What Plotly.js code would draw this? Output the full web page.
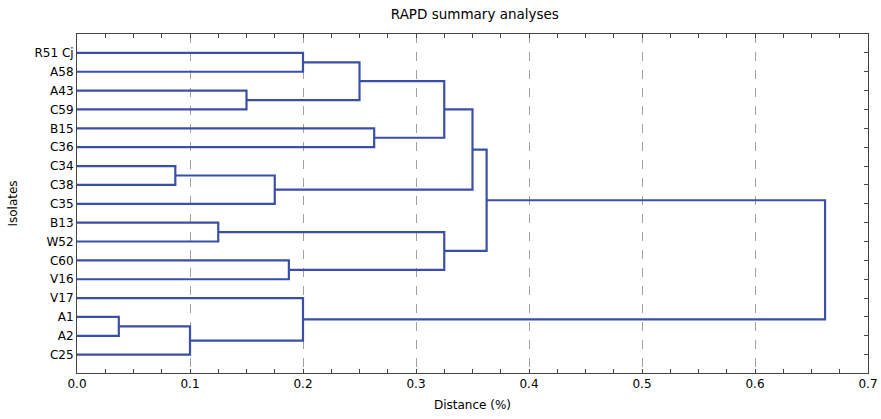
<!DOCTYPE html>
<html>
<head>
<meta charset="utf-8">
<script src="https://cdn.plot.ly/plotly-3.0.1.min.js"></script>
<style>html,body{margin:0;padding:0;background:#fff;}#chart{width:881px;height:419px;}</style>
</head>
<body>
<div id="chart"></div>
<script>
// Leaves (top to bottom)
const leaves = ['R51 Cj','A58','A43','C59','B15','C36','C34','C38','C35','B13','W52','C60','V16','V17','A1','A2','C25'];
// Linkage: node ids 0..16 are leaves, merge k creates node 17+k
const mergeLeft   = [0, 2, 17, 4, 19, 6, 22, 21, 9, 11, 25, 24, 14, 29, 13, 28];
const mergeRight  = [1, 3, 18, 5, 20, 7, 8, 23, 10, 12, 26, 27, 15, 16, 30, 31];
const mergeHeight = [0.2, 0.15, 0.25, 0.263, 0.325, 0.087, 0.175, 0.35, 0.125, 0.1875, 0.325, 0.3625, 0.037, 0.1, 0.2, 0.662];
const xTickVals = [0, 0.1, 0.2, 0.3, 0.4, 0.5, 0.6, 0.7];
const xTickText = ['0.0','0.1','0.2','0.3','0.4','0.5','0.6','0.7'];

const n = leaves.length;
const pos = [], hgt = [];
for (let i = 0; i < n; i++) { pos.push(i); hgt.push(0); }
const xs = [], ys = [];
for (let k = 0; k < mergeHeight.length; k++) {
  const a = mergeLeft[k], b = mergeRight[k], h = mergeHeight[k];
  xs.push(hgt[a], h, h, hgt[b], null);
  ys.push(pos[a], pos[a], pos[b], pos[b], null);
  pos.push((pos[a] + pos[b]) / 2);
  hgt.push(h);
}
const leafIdx = leaves.map((_, i) => i);
const font = {family: 'DejaVu Sans, Verdana, sans-serif', size: 12, color: '#000'};

const traces = [
  {x: xs, y: ys, type: 'scatter', mode: 'lines', line: {color: '#3a50a8', width: 2.2}, hoverinfo: 'skip', showlegend: false},
  {x: [0], y: [0], yaxis: 'y2', type: 'scatter', mode: 'markers', marker: {opacity: 0}, hoverinfo: 'skip', showlegend: false}
];

const layout = {
  width: 881, height: 419,
  margin: {l: 77, r: 13, t: 34, b: 46},
  paper_bgcolor: '#fff', plot_bgcolor: '#fff',
  font: font,
  title: {text: 'RAPD summary analyses', font: {family: font.family, size: 13.5, color: '#000'}, x: 0.539, xanchor: 'center', yref: 'container', y: 0.966, yanchor: 'middle'},
  xaxis: {
    range: [0, 0.7], tickvals: xTickVals, ticktext: xTickText,
    showgrid: true, gridcolor: '#a0a0a0', griddash: 'dash', gridwidth: 1,
    zeroline: false, showline: true, linecolor: '#444', linewidth: 1, mirror: 'ticks',
    ticks: 'inside', ticklen: 4, tickcolor: '#444',
    minor: {dtick: 0.025, tick0: 0, ticks: 'inside', ticklen: 4, tickcolor: '#444', showgrid: false},
    tickfont: {family: font.family, size: 12, color: '#000'},
    title: {text: 'Distance (%)', font: {family: font.family, size: 12, color: '#000'}, standoff: 10}
  },
  yaxis: {
    range: [16.97, -1], tickvals: leafIdx, ticktext: leaves,
    showgrid: false, zeroline: false, showline: true, linecolor: '#444', linewidth: 1, mirror: true,
    ticks: '', tickfont: {family: font.family, size: 12, color: '#000'},
    title: {text: 'Isolates', font: {family: font.family, size: 12, color: '#000'}, standoff: 14}
  },
  yaxis2: {
    overlaying: 'y', side: 'right', range: [16.97, -1], tickvals: leafIdx,
    showticklabels: false, ticks: 'inside', ticklen: 4, tickcolor: '#444',
    showgrid: false, zeroline: false, showline: false
  }
};
Plotly.newPlot('chart', traces, layout, {staticPlot: true, displayModeBar: false});
</script>
</body>
</html>
